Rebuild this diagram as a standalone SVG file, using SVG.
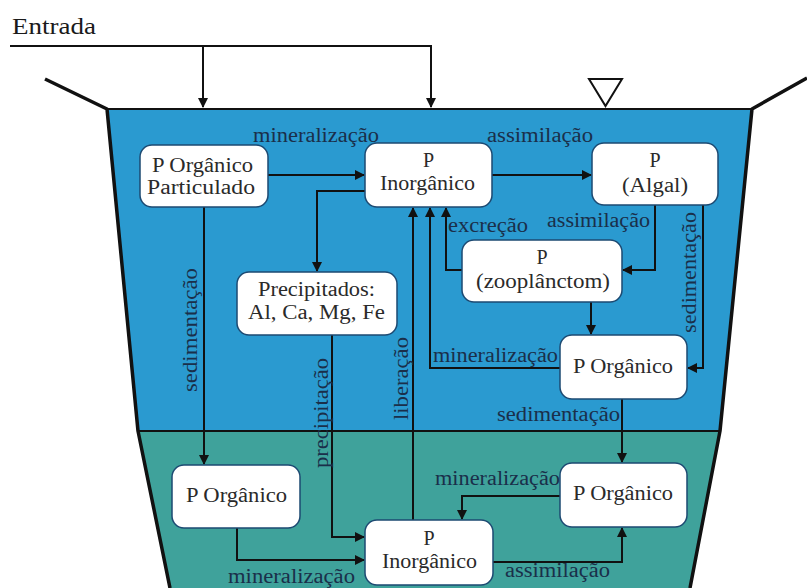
<svg xmlns="http://www.w3.org/2000/svg" width="807" height="588" viewBox="0 0 807 588">
<style>
text{font-family:'Liberation Serif','Times New Roman','DejaVu Serif',serif}
.node rect{fill:#ffffff;stroke:#1d4a72;stroke-width:1.5}
.nt{font-size:20px;fill:#2a2a2a}
.lb{font-size:20px;fill:#1a2f4a}
.ln{fill:none;stroke:#111;stroke-width:2}
.wall{fill:none;stroke:#111;stroke-width:3.5;stroke-linejoin:round}
</style>
<defs>
<marker id="ah" viewBox="0 0 10 10" refX="9" refY="5" markerWidth="10" markerHeight="10" markerUnits="userSpaceOnUse" orient="auto">
<path d="M0,0 L10,5 L0,10 z" fill="#111"/>
</marker>
</defs>
<rect width="807" height="588" fill="#ffffff"/>
<g id="water">
<polygon points="107,109 752,109 720,431 138,431" fill="#2a9ad0"/>
<polygon points="138,431 720,431 690,588 170,588" fill="#3fa29b"/>
<line x1="138" y1="431" x2="720" y2="431" stroke="#111" stroke-width="2"/>
<line x1="107" y1="109" x2="752" y2="109" stroke="#111" stroke-width="2"/>
<polyline class="wall" points="45,79 107,109 138,431 170,588"/>
<polyline class="wall" points="807,78 752,109 720,431 690,588"/>
<polygon points="589,79 622,79 605.5,106" fill="none" stroke="#111" stroke-width="2"/>
</g>
<text x="12" y="34" font-size="23" fill="#1a1a1a" textLength="84" lengthAdjust="spacingAndGlyphs">Entrada</text>
<g id="connectors">
<path class="ln" d="M10,46 H431 V107" marker-end="url(#ah)"/>
<path class="ln" d="M203,46 V107" marker-end="url(#ah)"/>
<path class="ln" d="M268,175 H364" marker-end="url(#ah)"/>
<path class="ln" d="M492,175 H591" marker-end="url(#ah)"/>
<path class="ln" d="M365,191 H317 V271" marker-end="url(#ah)"/>
<path class="ln" d="M204,207 V464" marker-end="url(#ah)"/>
<path class="ln" d="M332,335 V537 H364" marker-end="url(#ah)"/>
<path class="ln" d="M413,520 V208" marker-end="url(#ah)"/>
<path class="ln" d="M560,368 H430 V208" marker-end="url(#ah)"/>
<path class="ln" d="M462,270 H446 V208" marker-end="url(#ah)"/>
<path class="ln" d="M655,205 V270 H623" marker-end="url(#ah)"/>
<path class="ln" d="M703,205 V368 H688" marker-end="url(#ah)"/>
<path class="ln" d="M591,302 V334" marker-end="url(#ah)"/>
<path class="ln" d="M622,399 V462" marker-end="url(#ah)"/>
<path class="ln" d="M560,496 H462 V519" marker-end="url(#ah)"/>
<path class="ln" d="M493,562 H622 V528" marker-end="url(#ah)"/>
<path class="ln" d="M237,528 V560 H364" marker-end="url(#ah)"/>
</g>
<g id="labels">
<text class="lb" x="253" y="142" textLength="126" lengthAdjust="spacingAndGlyphs">mineralização</text>
<text class="lb" x="487" y="142" textLength="106" lengthAdjust="spacingAndGlyphs">assimilação</text>
<text class="lb" x="448" y="232" textLength="80" lengthAdjust="spacingAndGlyphs">excreção</text>
<text class="lb" x="547" y="227" textLength="103" lengthAdjust="spacingAndGlyphs">assimilação</text>
<text class="lb" x="433" y="362" textLength="125" lengthAdjust="spacingAndGlyphs">mineralização</text>
<text class="lb" x="497" y="421" textLength="123" lengthAdjust="spacingAndGlyphs">sedimentação</text>
<text class="lb" x="435" y="485" textLength="125" lengthAdjust="spacingAndGlyphs">mineralização</text>
<text class="lb" x="505" y="577" textLength="105" lengthAdjust="spacingAndGlyphs">assimilação</text>
<text class="lb" x="228" y="583" textLength="127" lengthAdjust="spacingAndGlyphs">mineralização</text>
<text class="lb" transform="translate(197,392) rotate(-90)" textLength="124" lengthAdjust="spacingAndGlyphs">sedimentação</text>
<text class="lb" transform="translate(328,468) rotate(-90)" textLength="110" lengthAdjust="spacingAndGlyphs">precipitação</text>
<text class="lb" transform="translate(408,420) rotate(-90)" textLength="83" lengthAdjust="spacingAndGlyphs">liberação</text>
<text class="lb" transform="translate(696,333) rotate(-90)" textLength="121" lengthAdjust="spacingAndGlyphs">sedimentação</text>
</g>
<g id="n_particulado" class="node">
<rect x="140" y="145" width="128" height="62" rx="12"/>
<text class="nt" x="152" y="172" textLength="101" lengthAdjust="spacingAndGlyphs">P Orgânico</text>
<text class="nt" x="147" y="194" textLength="108" lengthAdjust="spacingAndGlyphs">Particulado</text>
</g>
<g id="n_inorg_top" class="node">
<rect x="365" y="143" width="127" height="64" rx="12"/>
<text class="nt" x="428.5" y="167" text-anchor="middle">P</text>
<text class="nt" x="380" y="190" textLength="95" lengthAdjust="spacingAndGlyphs">Inorgânico</text>
</g>
<g id="n_algal" class="node">
<rect x="592" y="143" width="126" height="62" rx="12"/>
<text class="nt" x="655" y="167" text-anchor="middle">P</text>
<text class="nt" x="622" y="192" textLength="66" lengthAdjust="spacingAndGlyphs">(Algal)</text>
</g>
<g id="n_precipitados" class="node">
<rect x="237" y="272" width="160" height="63" rx="12"/>
<text class="nt" x="258" y="296" textLength="117" lengthAdjust="spacingAndGlyphs">Precipitados:</text>
<text class="nt" x="248" y="319" textLength="137" lengthAdjust="spacingAndGlyphs">Al, Ca, Mg, Fe</text>
</g>
<g id="n_zoo" class="node">
<rect x="462" y="240" width="160" height="62" rx="12"/>
<text class="nt" x="542" y="264" text-anchor="middle">P</text>
<text class="nt" x="476" y="288" textLength="134" lengthAdjust="spacingAndGlyphs">(zooplânctom)</text>
</g>
<g id="n_org_mid" class="node">
<rect x="560" y="335" width="127" height="64" rx="12"/>
<text class="nt" x="573" y="373" textLength="100" lengthAdjust="spacingAndGlyphs">P Orgânico</text>
</g>
<g id="n_org_bl" class="node">
<rect x="172" y="465" width="128" height="63" rx="12"/>
<text class="nt" x="186" y="502" textLength="101" lengthAdjust="spacingAndGlyphs">P Orgânico</text>
</g>
<g id="n_inorg_bottom" class="node">
<rect x="365" y="520" width="128" height="65" rx="12"/>
<text class="nt" x="429" y="545" text-anchor="middle">P</text>
<text class="nt" x="382" y="568" textLength="95" lengthAdjust="spacingAndGlyphs">Inorgânico</text>
</g>
<g id="n_org_br" class="node">
<rect x="560" y="463" width="127" height="64" rx="12"/>
<text class="nt" x="573" y="500" textLength="100" lengthAdjust="spacingAndGlyphs">P Orgânico</text>
</g>
</svg>
